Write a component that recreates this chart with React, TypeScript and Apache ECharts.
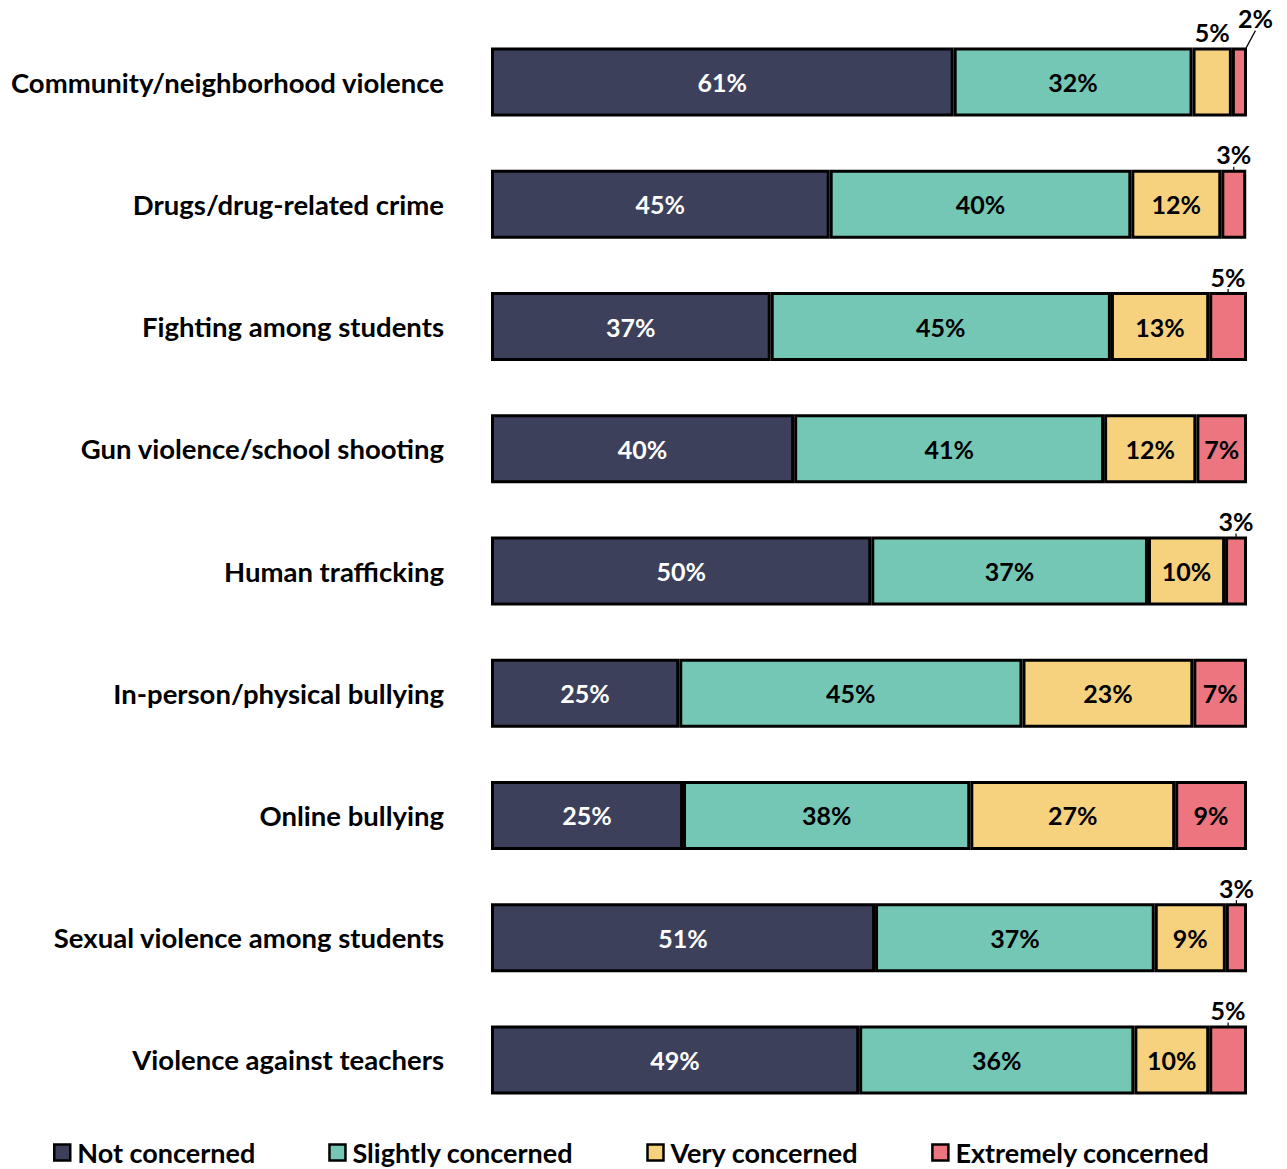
import React, { useEffect, useRef } from "react";
import * as echarts from "echarts";

const categories = [
  "Community/neighborhood violence",
  "Drugs/drug-related crime",
  "Fighting among students",
  "Gun violence/school shooting",
  "Human trafficking",
  "In-person/physical bullying",
  "Online bullying",
  "Sexual violence among students",
  "Violence against teachers",
];

const seriesNames = ["Not concerned", "Slightly concerned", "Very concerned", "Extremely concerned"];

// values (labels show rounded percentages)
const notConcerned = [61.2, 44.8, 37.0, 40.1, 50.3, 24.9, 25.4, 50.8, 48.7];
const slightlyConcerned = [31.6, 39.9, 45.0, 41.0, 36.6, 45.4, 38.0, 37.0, 36.4];
const veryConcerned = [5.2, 11.9, 13.0, 12.2, 10.2, 22.6, 27.1, 9.4, 9.9];
const extremelyConcerned = [2.0, 3.3, 5.0, 6.7, 2.9, 7.1, 9.5, 2.8, 5.0];

const notLabels = ["61%", "45%", "37%", "40%", "50%", "25%", "25%", "51%", "49%"];
const slightlyLabels = ["32%", "40%", "45%", "41%", "37%", "45%", "38%", "37%", "36%"];
const veryLabels = ["5%", "12%", "13%", "12%", "10%", "23%", "27%", "9%", "10%"];
const extremelyLabels = ["2%", "3%", "5%", "7%", "3%", "7%", "9%", "3%", "5%"];

const colors = ["#3D405B", "#74C7B4", "#F7D27E", "#EC7580"];

const FONT = "Lato";

export default function App() {
  const ref = useRef<HTMLDivElement>(null);

  useEffect(() => {
    document.body.style.margin = "0";
    if (!ref.current) return;
    const chart = echarts.init(ref.current, null, { renderer: "svg" });

    const allValues = [notConcerned, slightlyConcerned, veryConcerned, extremelyConcerned];
    const allLabels = [notLabels, slightlyLabels, veryLabels, extremelyLabels];

    const series = allValues.map((vals, si) => ({
      name: seriesNames[si],
      type: "bar",
      stack: "total",
      barWidth: 69,
      itemStyle: { color: colors[si], borderColor: "#000", borderWidth: 3 },
      labelLine: { show: si === 3, lineStyle: { color: "#000", width: 1.2 } },
      labelLayout:
        si === 3
          ? (p: any) => (p.dataIndex === 0 ? { dx: 16, dy: -14 } : {})
          : undefined,
      data: vals.map((v, i) => {
        const small = v < 6;
        return {
          value: v,
          label: {
            show: true,
            formatter: allLabels[si][i],
            position: small ? "top" : "inside",
            distance: 3,
            offset: small && si === 3 && i !== 0 ? [4, 0] : [0, 0],
            color: si === 0 && !small ? "#fff" : "#000",
            fontFamily: FONT,
            fontWeight: "bold",
            fontSize: 25,
          },
        };
      }),
    }));

    chart.setOption({
      animation: false,
      grid: { left: 491, right: 40, top: 21, bottom: 48, containLabel: false },
      xAxis: { type: "value", min: 0, max: 100, show: false },
      yAxis: {
        type: "category",
        data: categories,
        inverse: true,
        axisLine: { show: false },
        axisTick: { show: false },
        splitLine: { show: false },
        axisLabel: {
          margin: 47,
          color: "#000",
          fontFamily: FONT,
          fontWeight: "bold",
          fontSize: 27.5,
        },
      },
      legend: {
        data: seriesNames,
        left: 48,
        top: 1134,
        itemWidth: 16,
        itemHeight: 16,
        itemGap: 73,
        icon: "rect",
        itemStyle: { borderColor: "#000", borderWidth: 2.5 },
        textStyle: {
          color: "#000",
          fontFamily: FONT,
          fontWeight: "bold",
          fontSize: 27,
          padding: [0, 0, 0, 2],
        },
      },
      series,
    });

    return () => chart.dispose();
  }, []);

  return <div ref={ref} style={{ width: 1287, height: 1169 }} />;
}
